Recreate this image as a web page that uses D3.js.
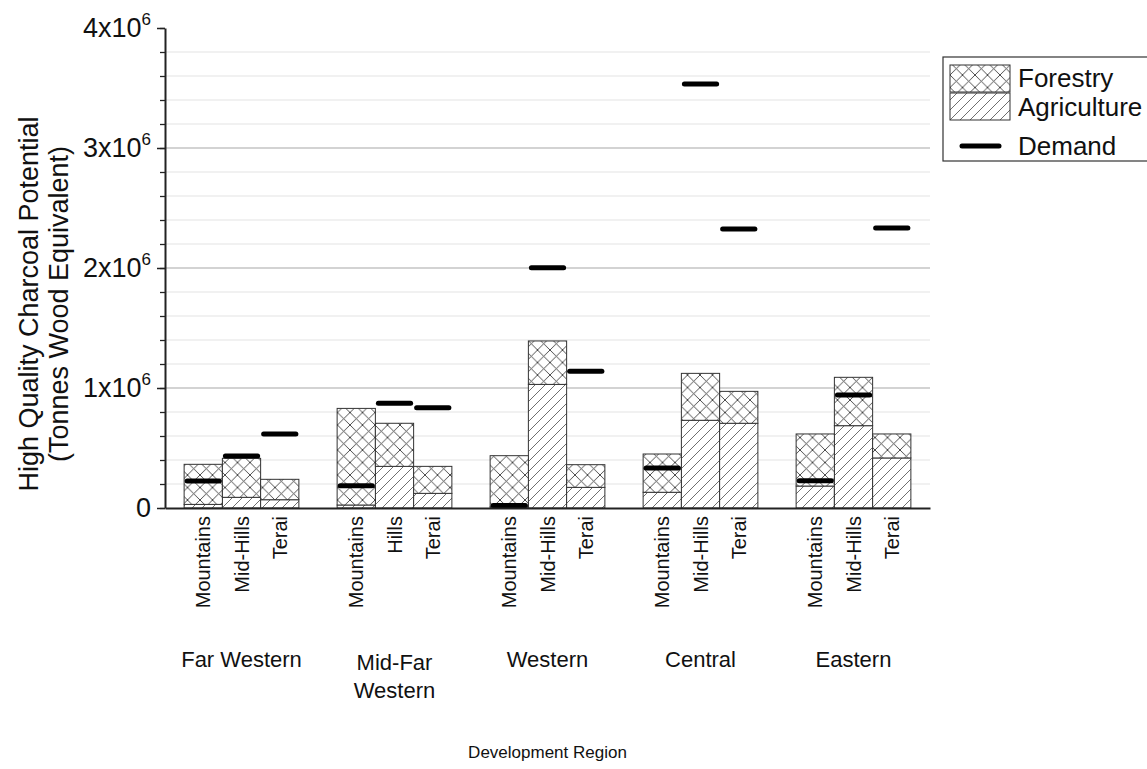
<!DOCTYPE html>
<html>
<head>
<meta charset="utf-8">
<script src="https://cdn.jsdelivr.net/npm/d3@7/dist/d3.min.js"></script>
<style>
  html, body { margin: 0; padding: 0; background: #fff; }
  svg { display: block; font-family: "Liberation Sans", Arial, sans-serif; }
</style>
</head>
<body>
<svg id="chart" width="1147" height="769"></svg>
<script>
// ---------------- data ----------------
const regions = ["Far Western", "Mid-Far Western", "Western", "Central", "Eastern"];
const regionLabelLines = [["Far Western"], ["Mid-Far", "Western"], ["Western"], ["Central"], ["Eastern"]];
const zones = [
  ["Mountains", "Mid-Hills", "Terai"],
  ["Mountains", "Hills", "Terai"],
  ["Mountains", "Mid-Hills", "Terai"],
  ["Mountains", "Mid-Hills", "Terai"],
  ["Mountains", "Mid-Hills", "Terai"]
];
// tonnes wood equivalent
const agriculture = [
  [30000, 89000, 69000],
  [25000, 347000, 122000],
  [10000, 1030000, 172000],
  [131000, 731000, 706000],
  [183000, 686000, 417000]
];
const forestry = [
  [334000, 325000, 170000],
  [805000, 359000, 225000],
  [426000, 362000, 189000],
  [319000, 391000, 266000],
  [434000, 403000, 200000]
];
const demand = [
  [225000, 433000, 617000],
  [186000, 872000, 836000],
  [20000, 2003000, 1139000],
  [333000, 3533000, 2325000],
  [228000, 942000, 2333000]
];
const yMajorTicks = [0, 1000000, 2000000, 3000000, 4000000];
const yMinorTicks = d3.range(0, 4000001, 200000);
const legendItems = ["Forestry", "Agriculture", "Demand"];

// ---------------- layout ----------------
const svg = d3.select("#chart");
const plotLeft = 165, plotRight = 930, plotTop = 28, plotBottom = 508;
const FONT = "'Liberation Sans', Arial, sans-serif";

svg.append("rect").attr("width", 1147).attr("height", 769).attr("fill", "#fff");

const y = d3.scaleLinear().domain([0, 4000000]).range([plotBottom, plotTop]);
const xGroup = d3.scaleBand().domain(regions).range([plotLeft, plotRight]).padding(0);
const xSub = d3.scaleBand().domain([0, 1, 2]).range([0, xGroup.bandwidth()])
  .paddingInner(0).paddingOuter(0.5);

// patterns
const defs = svg.append("defs");
const cross = defs.append("pattern").attr("id", "crossHatch")
  .attr("patternUnits", "userSpaceOnUse").attr("width", 12.5).attr("height", 12.5);
cross.append("rect").attr("width", 12.5).attr("height", 12.5).attr("fill", "#fff");
cross.append("path").attr("d", "M0,0L12.5,12.5M12.5,0L0,12.5M-1,1L1,-1M11.5,13.5L13.5,11.5M-1,11.5L1,13.5M11.5,-1L13.5,1")
  .attr("stroke", "#3a3a3a").attr("stroke-width", 0.9);
const diag = defs.append("pattern").attr("id", "diagHatch")
  .attr("patternUnits", "userSpaceOnUse").attr("width", 10).attr("height", 10);
diag.append("rect").attr("width", 10).attr("height", 10).attr("fill", "#fff");
diag.append("path").attr("d", "M0,10L10,0M-1,1L1,-1M9,11L11,9")
  .attr("stroke", "#4a4a4a").attr("stroke-width", 0.8);

// gridlines
svg.append("g").selectAll("line")
  .data(yMinorTicks.filter(v => v > 0 && v < 4000000))
  .join("line")
  .attr("x1", plotLeft).attr("x2", plotRight)
  .attr("y1", d => y(d)).attr("y2", d => y(d))
  .attr("stroke", d => (d % 1000000 === 0) ? "#a8a8a8" : "#e4e4e4")
  .attr("stroke-width", 1.2);

// bars
const rows = [];
regions.forEach((r, gi) => {
  zones[gi].forEach((z, si) => {
    rows.push({ r, gi, si, z, agri: agriculture[gi][si], forest: forestry[gi][si], dem: demand[gi][si] });
  });
});
const barX = d => xGroup(d.r) + xSub(d.si);
const bw = xSub.bandwidth();

const bars = svg.append("g");
bars.selectAll("rect.agri").data(rows).join("rect").attr("class", "agri")
  .attr("x", barX).attr("width", bw)
  .attr("y", d => y(d.agri)).attr("height", d => y(0) - y(d.agri))
  .attr("fill", "url(#diagHatch)").attr("stroke", "#333").attr("stroke-width", 1);
bars.selectAll("rect.forest").data(rows).join("rect").attr("class", "forest")
  .attr("x", barX).attr("width", bw)
  .attr("y", d => y(d.agri + d.forest)).attr("height", d => y(d.agri) - y(d.agri + d.forest))
  .attr("fill", "url(#crossHatch)").attr("stroke", "#333").attr("stroke-width", 1);

// demand markers
svg.append("g").selectAll("line").data(rows).join("line")
  .attr("x1", d => barX(d) + 3).attr("x2", d => barX(d) + bw - 3)
  .attr("y1", d => y(d.dem)).attr("y2", d => y(d.dem))
  .attr("stroke", "#000").attr("stroke-width", 5).attr("stroke-linecap", "round");

// y axis minor ticks
const yMinor = svg.append("g").attr("transform", `translate(${plotLeft},0)`)
  .call(d3.axisLeft(y).tickValues(yMinorTicks).tickSize(5).tickFormat(""));
yMinor.select(".domain").remove();
yMinor.selectAll("line").attr("stroke", "#222").attr("stroke-width", 1.3);

// y axis major
const yAxis = svg.append("g").attr("transform", `translate(${plotLeft},0)`)
  .call(d3.axisLeft(y).tickValues(yMajorTicks).tickSize(8).tickSizeOuter(0).tickPadding(6));
yAxis.select(".domain").attr("stroke", "#222").attr("stroke-width", 2);
yAxis.selectAll(".tick line").attr("stroke", "#222").attr("stroke-width", 1.5);
yAxis.selectAll(".tick text").each(function(d) {
  const t = d3.select(this);
  t.text("").attr("font-size", 27).attr("font-family", FONT).attr("fill", "#111");
  if (d === 0) { t.text("0"); return; }
  t.append("tspan").text(`${d / 1000000}x10`);
  t.append("tspan").text("6").attr("font-size", 17).attr("dy", -12);
});

// x axis baseline
const xAxis = svg.append("g").attr("transform", `translate(0,${plotBottom})`)
  .call(d3.axisBottom(xGroup).tickSize(0).tickFormat(""));
xAxis.select(".domain").attr("stroke", "#222").attr("stroke-width", 2);

// zone labels
svg.append("g").selectAll("text").data(rows).join("text")
  .attr("transform", d => `translate(${barX(d) + bw / 2},${plotBottom + 8}) rotate(-90)`)
  .attr("text-anchor", "end").attr("dy", "0.35em")
  .attr("font-size", 20).attr("font-family", FONT).attr("fill", "#111")
  .text(d => d.z);

// region labels
const rl = svg.append("g").selectAll("text").data(regions).join("text")
  .attr("x", d => xGroup(d) + xGroup.bandwidth() / 2)
  .attr("y", (d, i) => regionLabelLines[i].length > 1 ? 670 : 667)
  .attr("text-anchor", "middle").attr("font-size", 22).attr("font-family", FONT).attr("fill", "#111");
rl.each(function(d, i) {
  const t = d3.select(this);
  regionLabelLines[i].forEach((line, li) => {
    t.append("tspan").attr("x", xGroup(d) + xGroup.bandwidth() / 2)
      .attr("dy", li === 0 ? 0 : 28).text(line);
  });
});

// axis titles
svg.append("text").attr("x", (plotLeft + plotRight) / 2).attr("y", 758)
  .attr("text-anchor", "middle").attr("font-size", 17).attr("font-family", FONT).attr("fill", "#111")
  .text("Development Region");
const yt = svg.append("text").attr("transform", `translate(38,304) rotate(-90)`)
  .attr("text-anchor", "middle").attr("font-size", 27).attr("font-family", FONT).attr("fill", "#111");
yt.append("tspan").attr("x", 0).attr("dy", 0).text("High Quality Charcoal Potential");
yt.append("tspan").attr("x", 0).attr("dy", 30).text("(Tonnes Wood Equivalent)");

// legend
const lg = svg.append("g");
lg.append("rect").attr("x", 943).attr("y", 57).attr("width", 215).attr("height", 104)
  .attr("fill", "#fff").attr("stroke", "#333").attr("stroke-width", 1.2);
const swY = [65, 93];
lg.append("rect").attr("x", 950).attr("y", swY[0]).attr("width", 60).attr("height", 27)
  .attr("fill", "url(#crossHatch)").attr("stroke", "#333");
lg.append("rect").attr("x", 950).attr("y", swY[1]).attr("width", 60).attr("height", 27)
  .attr("fill", "url(#diagHatch)").attr("stroke", "#333");
lg.append("line").attr("x1", 962).attr("x2", 999).attr("y1", 146).attr("y2", 146)
  .attr("stroke", "#000").attr("stroke-width", 5).attr("stroke-linecap", "round");
lg.selectAll("text.lt").data(legendItems).join("text").attr("class", "lt")
  .attr("x", 1018).attr("y", (d, i) => [78, 107, 146][i]).attr("dy", "0.35em")
  .attr("font-size", 26).attr("font-family", FONT).attr("fill", "#111")
  .text(d => d);
</script>
</body>
</html>
